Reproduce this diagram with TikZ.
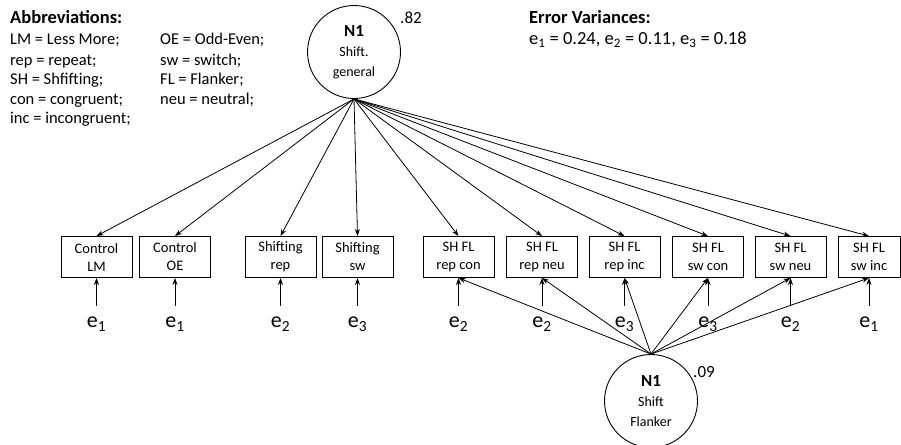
\documentclass[tikz,border=0pt]{standalone}
\usepackage{fontspec}
\setmainfont{Carlito}
\usetikzlibrary{arrows.meta}
\begin{document}
\begin{tikzpicture}[x=1pt,y=-1pt,
  ind/.style={draw, line width=0.9pt, minimum width=71pt, minimum height=41pt,
    inner sep=0pt, align=center, font=\fontsize{14.5}{18}\selectfont},
  lat/.style={draw, circle, line width=0.9pt, minimum size=93pt, inner sep=0pt,
    align=center, font=\fontsize{14}{20}\selectfont},
  load/.style={line width=0.8pt, -{Stealth[length=7pt,width=5pt]}},
  errlab/.style={font=\fontsize{22}{22}\selectfont, inner sep=0pt, anchor=base},
  txt/.style={anchor=base west, inner sep=0pt, font=\fontsize{16.5}{20}\selectfont},
  head/.style={anchor=base west, inner sep=0pt, font=\fontsize{18.5}{20}\selectfont\bfseries},
  coef/.style={inner sep=0pt, font=\fontsize{17}{20}\selectfont}]
\useasboundingbox (0,0) rectangle (901,444);

% legend: abbreviations
\node[head] (abh) at (10,24) {Abbreviations:};
\node[txt] (ab1) at (10,45) {LM = Less More;};
\node[txt] (ab2) at (10,65) {rep = repeat;};
\node[txt] (ab3) at (10,84) {SH = Shfifting;};
\node[txt] (ab4) at (10,104) {con = congruent;};
\node[txt] (ab5) at (10,123) {inc = incongruent;};
\node[txt] (ab6) at (160,45) {OE = Odd-Even;};
\node[txt] (ab7) at (160,65) {sw = switch;};
\node[txt] (ab8) at (160,84) {FL = Flanker;};
\node[txt] (ab9) at (160,104) {neu = neutral;};

% legend: error variances
\node[head] (evh) at (529,24) {Error Variances:};
\node[txt, font=\fontsize{18.5}{20}\selectfont] (evv) at (529,45)
  {e\textsubscript{1} = 0.24, e\textsubscript{2} = 0.11, e\textsubscript{3} = 0.18};

% latent factors
\node[lat] (gen) at (354,52) {{\fontsize{17}{20}\selectfont\bfseries N1}\\Shift.\\general};
\node[lat] (fla) at (651,401) {{\fontsize{17}{20}\selectfont\bfseries N1}\\Shift\\Flanker};
\node[coef] (cg) at (411,18) {.82};
\node[coef] (cf) at (704,372) {.09};

% observed indicators
\node[ind] (lm) at (96.5,257) {Control\\LM};
\node[ind] (oe) at (175,257) {Control\\OE};
\node[ind] (sr) at (280.5,257) {Shifting\\rep};
\node[ind] (ss) at (357.5,257) {Shifting\\sw};
\node[ind] (rc) at (458.5,257) {SH FL\\rep con};
\node[ind] (rn) at (542,257) {SH FL\\rep neu};
\node[ind] (ri) at (624.5,257) {SH FL\\rep inc};
\node[ind] (sc) at (708,257) {SH FL\\sw con};
\node[ind] (sn) at (790.5,257) {SH FL\\sw neu};
\node[ind, minimum width=62pt] (si) at (869,257) {SH FL\\sw inc};

% general factor loadings
\foreach \b in {lm,oe,sr,ss,rc,rn,ri,sc,sn,si}
  \draw[load] (gen.south) -- (\b.north);

% flanker factor loadings
\foreach \b in {rc,rn,ri,sc,sn,si}
  \draw[load] (fla.north) -- (\b.south);

% error terms
\foreach \b/\i in {lm/1,oe/1,sr/2,ss/3,rc/2,rn/2,ri/3,sc/3,sn/2,si/1}{
  \coordinate (\b-e) at ([yshift=-28pt]\b.south);
  \draw[load] (\b-e) -- (\b.south);
  \node[errlab] (\b-lab) at ([yshift=-22pt]\b-e) {e\textsubscript{\i}};
}
\end{tikzpicture}
\end{document}
